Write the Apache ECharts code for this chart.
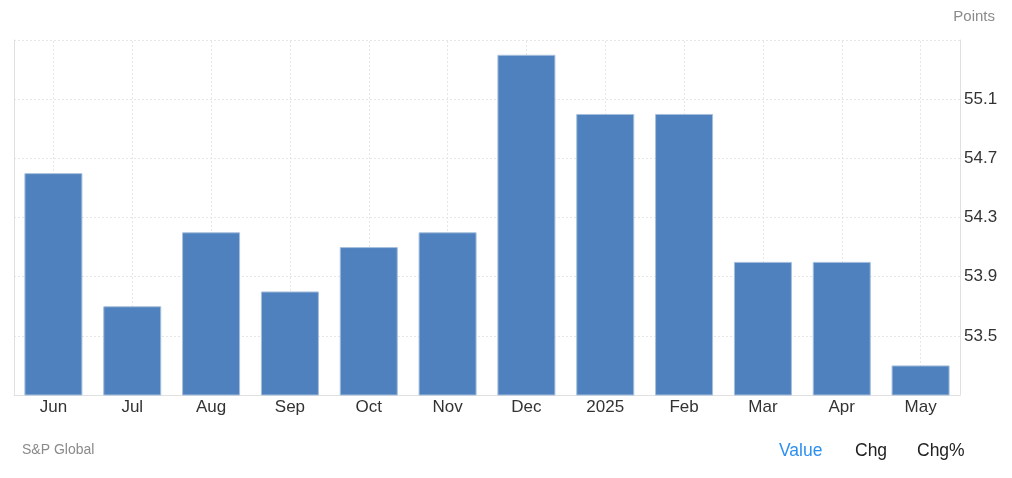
<!DOCTYPE html>
<html><head><meta charset="utf-8">
<script src="https://cdn.jsdelivr.net/npm/echarts@6/dist/echarts.min.js"></script>
<style>html,body{margin:0;padding:0;background:#fff}#c{width:1012px;height:478px}</style>
</head><body><div id="c"></div>
<script>
const categories = ['Jun','Jul','Aug','Sep','Oct','Nov','Dec','2025','Feb','Mar','Apr','May'];
const values = [54.6, 53.7, 54.2, 53.8, 54.1, 54.2, 55.4, 55.0, 55.0, 54.0, 54.0, 53.3];
const yMin = 53.1, yMax = 55.5, yStep = 0.4;

const chart = echarts.init(document.getElementById('c'), null, {renderer:'canvas'});
const font = 'Arial, "Liberation Sans", sans-serif';
const txt = (text, x, y, size, color, align) => ({
  type: 'text', x: x, y: y, silent: true,
  style: {text: text, font: size + 'px ' + font, fill: color, textAlign: align || 'left', textVerticalAlign: 'middle', verticalAlign: 'middle'}
});
chart.setOption({
  animation: false,
  grid: {left: 14, right: 52, top: 40, bottom: 83, containLabel: false},
  graphic: [
    txt('Points', 995, 17, 15, '#8a8a8a', 'right'),
    txt('S&P Global', 22, 450, 14, '#8a8a8a'),
    txt('Value', 779, 451, 17.5, '#2d8ff0'),
    txt('Chg', 855, 451, 17.5, '#222'),
    txt('Chg%', 917, 451, 17.5, '#222')
  ],
  xAxis: {
    type: 'category', data: categories, boundaryGap: true,
    axisLine: {show: true, lineStyle: {color: '#e0e0e0', width: 1}},
    axisTick: {show: false},
    axisLabel: {color: '#333', fontFamily: font, fontSize: 17, margin: 4},
    splitLine: {show: false}
  },
  yAxis: [{
    type: 'value', position: 'right', min: yMin, max: yMax, interval: yStep,
    axisLine: {show: true, lineStyle: {color: '#e0e0e0', width: 1}},
    axisTick: {show: false},
    axisLabel: {color: '#333', fontFamily: font, fontSize: 17, margin: 4, showMinLabel: false, showMaxLabel: false,
      formatter: v => v.toFixed(1), verticalAlign: 'middle'},
    splitLine: {show: true, lineStyle: {color: '#e6e6e6', type: [2, 2], width: 1}}
  }, {
    type: 'value', position: 'left', min: yMin, max: yMax, interval: yStep,
    axisLine: {show: true, lineStyle: {color: '#e0e0e0', width: 1}},
    axisTick: {show: false}, axisLabel: {show: false}, splitLine: {show: false}
  }],
  series: [{
    type: 'bar', data: values, yAxisIndex: 0, barWidth: 58, z: 2,
    itemStyle: {color: '#4e81bd', borderColor: '#a7bfdc', borderWidth: 1},
    markLine: {
      silent: true, z: 1, symbol: ['none', 'none'], animation: false,
      label: {show: false},
      lineStyle: {color: '#e6e6e6', type: [2, 2], width: 1},
      emphasis: {disabled: true},
      data: categories.map(c => ({xAxis: c}))
    }
  }]
});
</script></body></html>
